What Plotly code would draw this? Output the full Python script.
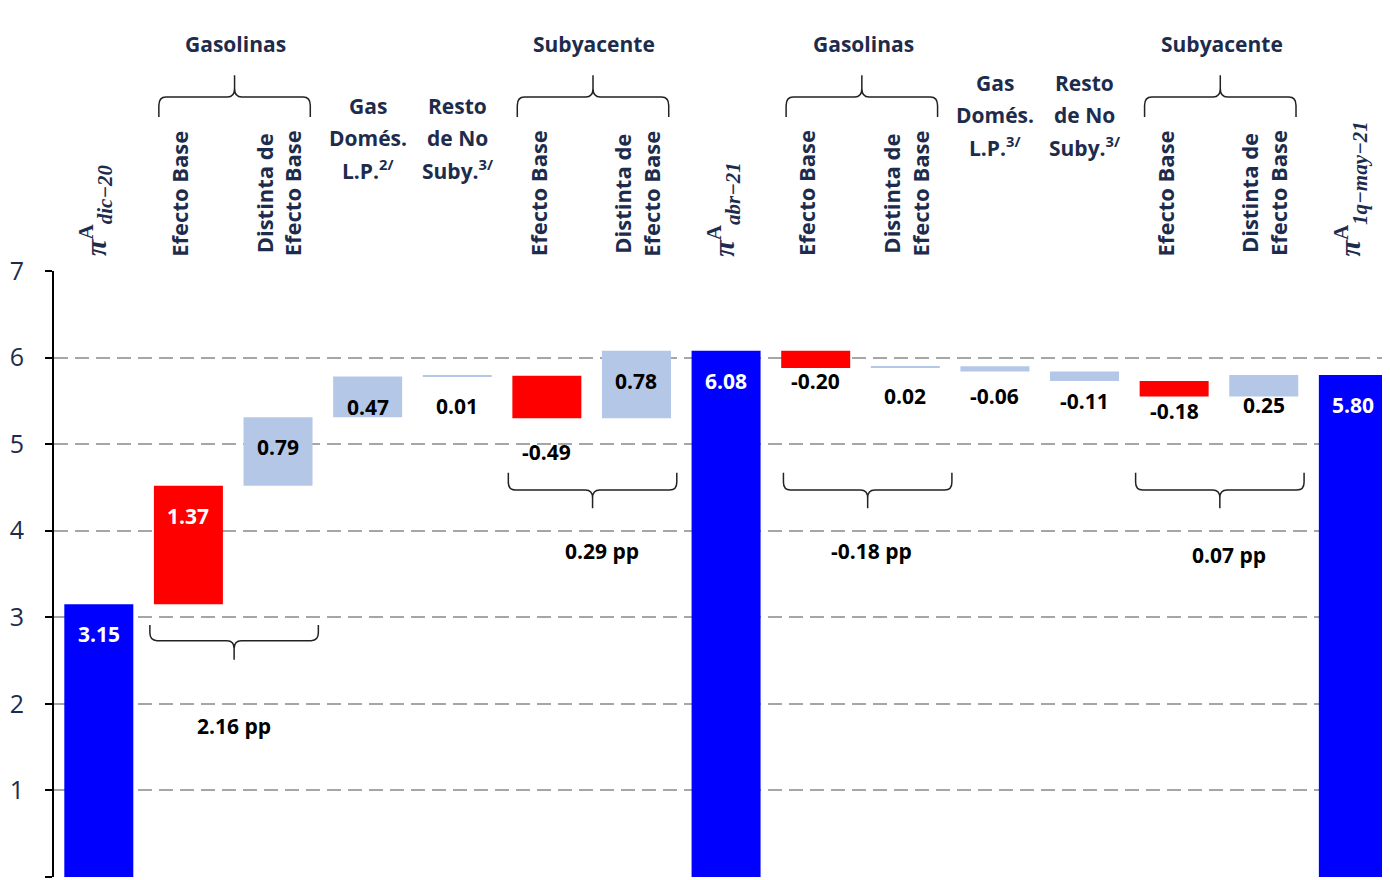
import plotly.graph_objects as go

# ---- data ----
categories = [
    "<b><i>π</i><sup>A</sup><sub><i>dic−20</i></sub></b>",
    "<b>Efecto Base</b>",
    "<b>Distinta de<br>Efecto Base</b>",
    "<b>Gas<br>Domés.<br>L.P.<sup>2/</sup></b>",
    "<b>Resto<br>de No<br>Suby.<sup>3/</sup></b>",
    "<b>Efecto Base</b>",
    "<b>Distinta de<br>Efecto Base</b>",
    "<b><i>π</i><sup>A</sup><sub><i>abr−21</i></sub></b>",
    "<b>Efecto Base</b>",
    "<b>Distinta de<br>Efecto Base</b>",
    "<b>Gas<br>Domés.<br>L.P.<sup>3/</sup></b>",
    "<b>Resto<br>de No<br>Suby.<sup>3/</sup></b>",
    "<b>Efecto Base</b>",
    "<b>Distinta de<br>Efecto Base</b>",
    "<b><i>π</i><sup>A</sup><sub><i>1q−may−21</i></sub></b>",
]
values = [3.15, 1.37, 0.79, 0.47, 0.01, -0.49, 0.78, 6.08,
          -0.20, 0.02, -0.06, -0.11, -0.18, 0.25, 5.80]
kinds = ["total", "base", "other", "other", "other", "base", "other", "total",
         "base", "other", "other", "other", "base", "other", "total"]

# groups: (first index, second index, header)
groups = [(1, 2, "Gasolinas"), (5, 6, "Subyacente"),
          (8, 9, "Gasolinas"), (12, 13, "Subyacente")]

# ---- styling ----
NAVY = "#1d2c4c"
colors = {"total": "#0000ff", "base": "#ff0000", "other": "#b4c7e7"}
label_col = {"total": "white", "base": "black", "other": "black"}
label_col_override = {1: "white"}
FONT = "Open Sans"
PLOT_H = 606  # px height of plotting area

# running waterfall positions
bases, tops, bottoms = [], [], []
run = 0.0
for v, k in zip(values, kinds):
    if k == "total":
        b = 0.0
        run = v
    else:
        b = run
        run = run + v
    bases.append(b)
    tops.append(max(b, b + v))
    bottoms.append(min(b, b + v))

xs = list(range(len(values)))

fig = go.Figure()
fig.add_trace(go.Bar(
    x=xs, y=values, base=bases,
    width=0.77,
    marker=dict(color=[colors[k] for k in kinds], line=dict(width=0)),
    hoverinfo="skip",
))

annotations = []
shapes = []

# value labels
for i, (v, k) in enumerate(zip(values, kinds)):
    if i == 5:
        y_ref, shift = bottoms[i], -34
    else:
        y_ref, shift = tops[i], -30
    col = label_col_override.get(i, label_col[k])
    annotations.append(dict(
        x=i, y=y_ref, xref="x", yref="y", yshift=shift, yanchor="middle",
        text=f"<b>{v:.2f}</b>", showarrow=False,
        font=dict(family=FONT, size=21, color=col),
    ))

# category headers above the plot
for i, txt in enumerate(categories):
    if "Gas<br>" in txt or "Resto" in txt:
        # stacked horizontal lines, spaced like the reference
        lines = txt.replace("<b>", "").replace("</b>", "").split("<br>")
        ylast = 1.1667 if i < 7 else 1.205
        n = len(lines)
        for j, ln in enumerate(lines):
            annotations.append(dict(
                x=i, y=ylast + (n - 1 - j) * 32 / PLOT_H, xref="x", yref="paper",
                text=f"<b>{ln}</b>", showarrow=False,
                yanchor="middle", xanchor="center",
                font=dict(family=FONT, size=21, color=NAVY),
            ))
    elif "π" in txt:
        annotations.append(dict(
            x=i - 0.03, y=1.021, xref="x", yref="paper", text=txt,
            textangle=-90, showarrow=False, yanchor="bottom", xanchor="center",
            font=dict(family="Liberation Serif", size=30, color=NAVY),
        ))
    else:
        annotations.append(dict(
            x=i - 0.1 if "Distinta" not in txt else i, y=1.021, xref="x", yref="paper", text=txt,
            textangle=-90, showarrow=False, yanchor="bottom", xanchor="center",
            font=dict(family=FONT, size=22, color=NAVY),
        ))


def brace(x0, x1, y_arm, y_mid, y_tip, rx, ry):
    xc = (x0 + x1) / 2
    d = 1 if y_tip > y_mid else -1
    return (f"M {x0},{y_arm} L {x0},{y_mid - d * ry} Q {x0},{y_mid} {x0 + rx},{y_mid} "
            f"L {xc - rx},{y_mid} Q {xc},{y_mid} {xc},{y_mid + d * ry} L {xc},{y_tip} "
            f"M {xc},{y_mid + d * ry} Q {xc},{y_mid} {xc + rx},{y_mid} "
            f"L {x1 - rx},{y_mid} Q {x1},{y_mid} {x1},{y_mid - d * ry} L {x1},{y_arm}")


# top braces + group names
for a, b, name in groups:
    shapes.append(dict(
        type="path", xref="x", yref="paper",
        path=brace(a - 0.33, b + 0.36, 1.254, 1.287, 1.323, 0.08, 0.014),
        line=dict(color="#222222", width=1.5),
    ))
    annotations.append(dict(
        x=(a + b) / 2 + 0.03, y=1.375, xref="x", yref="paper",
        text=f"<b>{name}</b>", showarrow=False, yanchor="middle",
        font=dict(family=FONT, size=21, color=NAVY),
    ))

# bottom braces + subtotal labels: (arm, mid, tip, label y, brace dx, label dx)
brace_y = [(2.91, 2.73, 2.51, 1.74, 0.0, 0.0), (4.67, 4.47, 4.26, 3.77, 0.0, 0.1),
           (4.67, 4.47, 4.26, 3.77, 0.07, 0.04), (4.67, 4.47, 4.26, 3.72, 0.0, 0.1)]
for (a, b, _), (ya, ym, yt, yl, bdx, ldx) in zip(groups, brace_y):
    x0, x1 = a - 0.43 + bdx, b + 0.45 + bdx
    shapes.append(dict(
        type="path", xref="x", yref="y",
        path=brace(x0, x1, ya, ym, yt, 0.08, 0.09),
        line=dict(color="#222222", width=1.5),
    ))
    sub = values[a] + values[b]
    annotations.append(dict(
        x=(x0 + x1) / 2 + ldx, y=yl, xref="x", yref="y", yanchor="middle",
        text=f"<b>{sub:.2f} pp</b>", showarrow=False,
        font=dict(family=FONT, size=21, color="black"),
    ))

# page body adds an 8px margin, so the figure is sized to compensate
fig.update_layout(
    width=1384, height=872,
    margin=dict(l=46, r=1, t=263, b=3),
    plot_bgcolor="white", paper_bgcolor="white",
    showlegend=False,
    annotations=annotations,
    shapes=shapes,
)
fig.update_xaxes(
    range=[-0.5, 14.42], showticklabels=False, showgrid=False,
    zeroline=False, showline=False, ticks="",
)
fig.update_yaxes(
    range=[0, 7], dtick=1, tick0=0,
    showgrid=True, gridcolor="#a6a6a6", gridwidth=2, griddash="14px,7px",
    zeroline=False,
    showline=True, linecolor="black", linewidth=2,
    ticks="outside", ticklen=7, tickcolor="black", tickwidth=2,
    ticklabelstandoff=16,
    tickfont=dict(family=FONT, size=25, color=NAVY),
)

fig.write_html("out.html")
